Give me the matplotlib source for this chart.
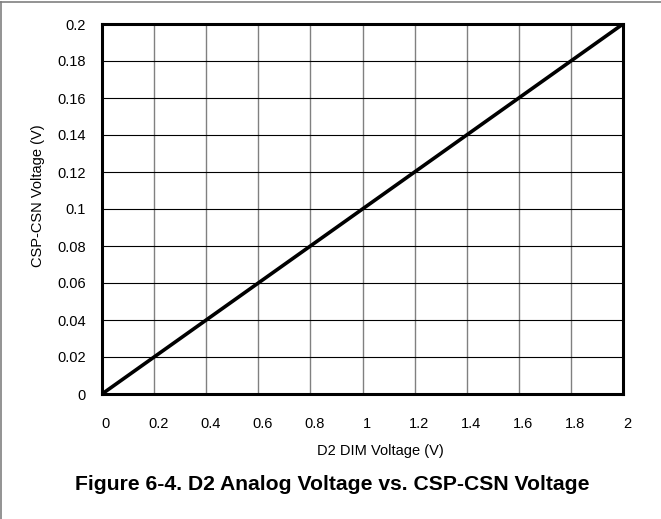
import matplotlib.pyplot as plt
import matplotlib.transforms as mtransforms
from matplotlib.lines import Line2D

plt.rcParams['font.family'] = ['Liberation Sans', 'DejaVu Sans']

# data
d2_dim_v = [0.0, 2.0]
csp_csn_v = [0.0, 0.2]
x_ticks = [0, 0.2, 0.4, 0.6, 0.8, 1, 1.2, 1.4, 1.6, 1.8, 2]
y_ticks = [0, 0.02, 0.04, 0.06, 0.08, 0.1, 0.12, 0.14, 0.16, 0.18, 0.2]
x_labels = ['0', '0.2', '0.4', '0.6', '0.8', '1', '1.2', '1.4', '1.6', '1.8', '2']
y_labels = ['0', '0.02', '0.04', '0.06', '0.08', '0.1', '0.12', '0.14', '0.16', '0.18', '0.2']

W, H = 661, 519
fig = plt.figure(figsize=(W / 100, H / 100), dpi=100)
ax = fig.add_axes([102 / W, 1 - 394 / H, (623 - 102) / W, (394 - 24) / H])

for xv in x_ticks[1:-1]:
    ax.axvline(xv, color='#808080', lw=1.0, zorder=1)
for yv in y_ticks[1:-1]:
    ax.axhline(yv, color='#000000', lw=0.8, zorder=1)

ax.plot(d2_dim_v, csp_csn_v, color='black', lw=2.6, solid_capstyle='round', zorder=3)

ax.set_xlim(0, 2)
ax.set_ylim(0, 0.2)
ax.set_xticks(x_ticks)
ax.set_xticklabels(x_labels)
ax.set_yticks(y_ticks)
ax.set_yticklabels(y_labels)
ax.tick_params(length=0, labelsize=10.5)
ax.tick_params(axis='x', pad=16.5)
ax.tick_params(axis='y', pad=11.5)
shift = mtransforms.ScaledTranslation(4 / 100, 0, fig.dpi_scale_trans)
for lbl in ax.get_xticklabels():
    lbl.set_transform(lbl.get_transform() + shift)
for s in ax.spines.values():
    s.set_linewidth(2.2)

ax.set_xlabel('D2 DIM Voltage (V)', fontsize=10.5)
ax.set_ylabel('CSP-CSN Voltage (V)', fontsize=10.5)
ax.xaxis.set_label_coords((380 - 102) / (623 - 102), -(444 - 394) / (394 - 24))
ax.yaxis.set_label_coords(-(102 - 45) / (623 - 102), (394 - 196) / (394 - 24))

fig.text(332 / W, 1 - 484 / H, 'Figure 6-4. D2 Analog Voltage vs. CSP-CSN Voltage',
         ha='center', va='center', fontsize=15.2, fontweight='bold')

# outer frame lines (top and left only)
fig.add_artist(Line2D([0, 1], [1 - 2 / H, 1 - 2 / H], transform=fig.transFigure,
                      color='#808080', lw=1.2))
fig.add_artist(Line2D([1 / W, 1 / W], [0, 1 - 2 / H], transform=fig.transFigure,
                      color='#808080', lw=1.2))

fig.savefig('out.png', dpi=100)
